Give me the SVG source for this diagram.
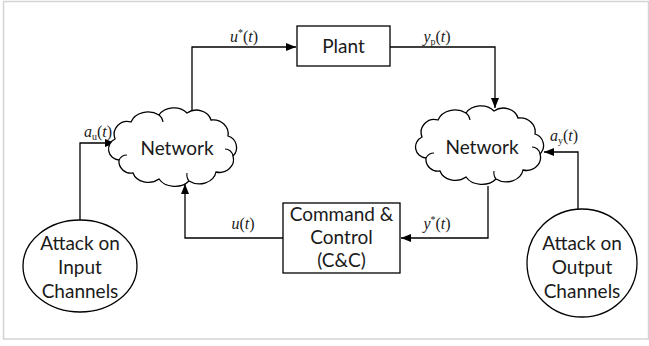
<svg xmlns="http://www.w3.org/2000/svg" width="649" height="346" viewBox="0 0 649 346">
  <style>
    .box { fill: #ffffff; stroke: #000000; stroke-width: 1.3; }
    .wire { fill: none; stroke: #000000; stroke-width: 1.3; }
    .curl { fill: none; stroke: #000000; stroke-width: 1.1; }
    .lbl { font-family: Lato, "Open Sans", sans-serif; font-size: 19px; fill: #1a1a1a; text-anchor: middle; }
    .math { font-family: "Liberation Serif", "Times New Roman", serif; font-size: 16px; fill: #1a1a1a; text-anchor: middle; }
    .it { font-style: italic; }
    .sm { font-size: 10px; }
  </style>
  <defs>
    <marker id="arrow" viewBox="0 0 10 8" refX="10" refY="4" markerWidth="10" markerHeight="8" markerUnits="userSpaceOnUse" orient="auto">
      <path d="M0,0 L10,4 L0,8 Z" fill="#000000"/>
    </marker>
    <!-- cloud outline plus the small inner curls of the bumps -->
    <g id="cloud">
      <path class="box" d="M6 30 A13 13 0 0 1 22 13 A18 15 0 0 1 50 6 A17 14 0 0 1 78 4 A15 13 0 0 1 102 11 A15 14 0 0 1 119 27 A12 12 0 0 1 124 47 A14 13 0 0 1 107 63 A17 14 0 0 1 80 72 A18 14 0 0 1 50 70 A16 13 0 0 1 24 64 A12 12 0 0 1 10 51 A11 11 0 0 1 6 30 Z"/>
      <path class="curl" d="M10 51 A9 9 0 0 1 18 46"/>
      <path class="curl" d="M124 47 A8 8 0 0 0 116 40"/>
      <path class="curl" d="M50 6 A10 10 0 0 1 54 13"/>
      <path class="curl" d="M80 72 A10 10 0 0 1 78 64"/>
    </g>
  </defs>

  <rect x="3.5" y="1.5" width="645" height="337.5" fill="#ffffff" stroke="#d4d4d4" stroke-width="1.5"/>

  <g id="connectors">
    <path class="wire" d="M192 112 V47 H296" marker-end="url(#arrow)"/>
    <path class="wire" d="M390 47 H495 V108" marker-end="url(#arrow)"/>
    <path class="wire" d="M488 186 V238 H401" marker-end="url(#arrow)"/>
    <path class="wire" d="M283 238 H185 V184" marker-end="url(#arrow)"/>
    <path class="wire" d="M80 221 V143 H115" marker-end="url(#arrow)"/>
    <path class="wire" d="M578 209 V152 H544" marker-end="url(#arrow)"/>

    <text class="math" x="244" y="42"><tspan class="it">u</tspan><tspan class="sm" dy="-6">*</tspan><tspan dy="6">(</tspan><tspan class="it">t</tspan>)</text>
    <text class="math" x="437" y="42"><tspan class="it">y</tspan><tspan class="sm" dy="3">p</tspan><tspan dy="-3">(</tspan><tspan class="it">t</tspan>)</text>
    <text class="math" x="243" y="229"><tspan class="it">u</tspan>(<tspan class="it">t</tspan>)</text>
    <text class="math" x="437" y="229"><tspan class="it">y</tspan><tspan class="sm" dy="-6">*</tspan><tspan dy="6">(</tspan><tspan class="it">t</tspan>)</text>
    <text class="math" x="98" y="137"><tspan class="it">a</tspan><tspan class="sm" dy="3">u</tspan><tspan dy="-3">(</tspan><tspan class="it">t</tspan>)</text>
    <text class="math" x="564" y="141"><tspan class="it">a</tspan><tspan class="sm" dy="3">y</tspan><tspan dy="-3">(</tspan><tspan class="it">t</tspan>)</text>
  </g>

  <g id="plant">
    <rect class="box" x="297" y="26" width="93" height="40"/>
    <text class="lbl" x="343.5" y="53">Plant</text>
  </g>

  <g id="command-control">
    <rect class="box" x="283" y="203" width="117" height="70"/>
    <text class="lbl" x="341.5" y="221">Command &amp;</text>
    <text class="lbl" x="341.5" y="244">Control</text>
    <text class="lbl" x="341.5" y="267">(C&amp;C)</text>
  </g>

  <g id="network-input" transform="translate(109 109)">
    <use href="#cloud"/>
    <text class="lbl" x="68" y="46">Network</text>
  </g>

  <g id="network-output" transform="translate(416 107)">
    <use href="#cloud"/>
    <text class="lbl" x="66" y="47">Network</text>
  </g>

  <g id="attack-input">
    <ellipse class="box" cx="80" cy="266" rx="57" ry="46"/>
    <text class="lbl" x="80" y="250">Attack on</text>
    <text class="lbl" x="80" y="274">Input</text>
    <text class="lbl" x="80" y="298">Channels</text>
  </g>

  <g id="attack-output">
    <ellipse class="box" cx="582" cy="263" rx="55" ry="54"/>
    <text class="lbl" x="582" y="250">Attack on</text>
    <text class="lbl" x="582" y="274">Output</text>
    <text class="lbl" x="582" y="298">Channels</text>
  </g>
</svg>
